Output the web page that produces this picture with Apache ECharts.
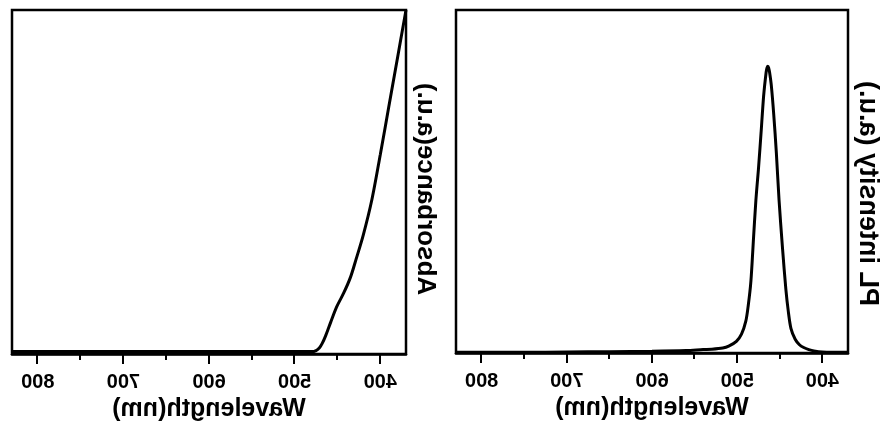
<!DOCTYPE html>
<html>
<head>
<meta charset="utf-8">
<script src="https://cdn.jsdelivr.net/npm/echarts@6/dist/echarts.min.js"></script>
<style>
  html, body { margin: 0; padding: 0; background: #fff; }
  /* the reference figure is a mirror image, so the whole chart is flipped */
  #chart { width: 892px; height: 435px; transform: scaleX(-1); }
</style>
</head>
<body>
<div id="chart"></div>
<script>
// PL spectrum (normalised intensity)
var plWavelength = [370, 400, 410, 416, 422, 427, 432, 437, 440, 443, 447, 451, 454, 457, 460, 462, 463, 464, 465, 466, 469, 472, 475, 478, 481, 484, 487, 490, 495, 501, 510, 517, 530, 540, 560, 600, 650, 700, 750, 830];
var plIntensity  = [0.002, 0.003, 0.006, 0.01, 0.016, 0.024, 0.04, 0.072, 0.12, 0.188, 0.31, 0.449, 0.58, 0.69, 0.78, 0.818, 0.83, 0.836, 0.832, 0.82, 0.75, 0.643, 0.54, 0.449, 0.33, 0.208, 0.14, 0.092, 0.055, 0.034, 0.02, 0.0145, 0.011, 0.01, 0.007, 0.005, 0.004, 0.003, 0.002, 0.002];

// absorption spectrum (normalised)
var absWavelength = [370, 380, 390, 400, 410, 420, 428, 435, 443, 451, 458, 464, 468, 471, 475, 480, 490, 520, 600, 700, 830];
var absorbance    = [1.0, 0.86, 0.72, 0.58, 0.447, 0.345, 0.278, 0.222, 0.176, 0.137, 0.092, 0.052, 0.03, 0.018, 0.01, 0.007, 0.007, 0.007, 0.007, 0.007, 0.007];

var majorTicks = [400, 500, 600, 700, 800];
var minorTicks = [450, 550, 650, 750];

function zip(xs, ys) {
  var res = [];
  for (var i = 0, len = xs.length; i < len; i++) {
    res.push([xs[i], ys[i]]);
  }
  return res;
}

var font = 'Liberation Sans, Arial, sans-serif';

function mainX(gridIndex) {
  return {
    type: 'value', gridIndex: gridIndex, min: 370, max: 830, position: 'bottom',
    name: 'Wavelength(nm)', nameLocation: 'middle', nameGap: 40,
    nameTextStyle: { color: '#000', fontSize: 25, fontWeight: 'bold', fontFamily: font },
    axisLine: { show: true, lineStyle: { color: '#000', width: 2.5 } },
    axisTick: { show: true, inside: false, length: 10, customValues: majorTicks, lineStyle: { color: '#000', width: 2 } },
    axisLabel: { show: true, margin: 18, customValues: majorTicks, color: '#000', fontSize: 20, fontWeight: 'bold', fontFamily: font },
    splitLine: { show: false }
  };
}

function minorX(gridIndex) {
  return {
    type: 'value', gridIndex: gridIndex, min: 370, max: 830, position: 'bottom',
    axisLine: { show: false },
    axisTick: { show: true, inside: false, length: 6, customValues: minorTicks, lineStyle: { color: '#000', width: 2 } },
    axisLabel: { show: false },
    splitLine: { show: false }
  };
}

function yAx(gridIndex, name, size, shift) {
  return {
    type: 'value', gridIndex: gridIndex, min: 0, max: 1,
    name: name, nameLocation: 'middle', nameGap: 6,
    nameTextStyle: { color: '#000', fontSize: size, fontWeight: 'bold', fontFamily: font, padding: [0, shift, 0, 0] },
    axisLine: { show: false },
    axisTick: { show: false },
    axisLabel: { show: false },
    splitLine: { show: false }
  };
}

var chart = echarts.init(document.getElementById('chart'));
chart.setOption({
  animation: false,
  backgroundColor: '#fff',
  grid: [
    { left: 44, top: 10, width: 392, height: 343, show: true, borderColor: '#000', borderWidth: 2.5 },
    { left: 486, top: 10, width: 394, height: 344, show: true, borderColor: '#000', borderWidth: 2.5 }
  ],
  xAxis: [mainX(0), minorX(0), mainX(1), minorX(1)],
  yAxis: [yAx(0, 'PL intensity (a.u.)', 27, 24), yAx(1, 'Absorbance(a.u.)', 26, 14)],
  series: [
    {
      type: 'line', xAxisIndex: 0, yAxisIndex: 0, data: zip(plWavelength, plIntensity),
      smooth: 0.3, showSymbol: false, lineStyle: { color: '#000', width: 3 }
    },
    {
      type: 'line', xAxisIndex: 2, yAxisIndex: 1, data: zip(absWavelength, absorbance),
      smooth: 0.3, showSymbol: false, lineStyle: { color: '#000', width: 3 }
    }
  ]
});
</script>
</body>
</html>
